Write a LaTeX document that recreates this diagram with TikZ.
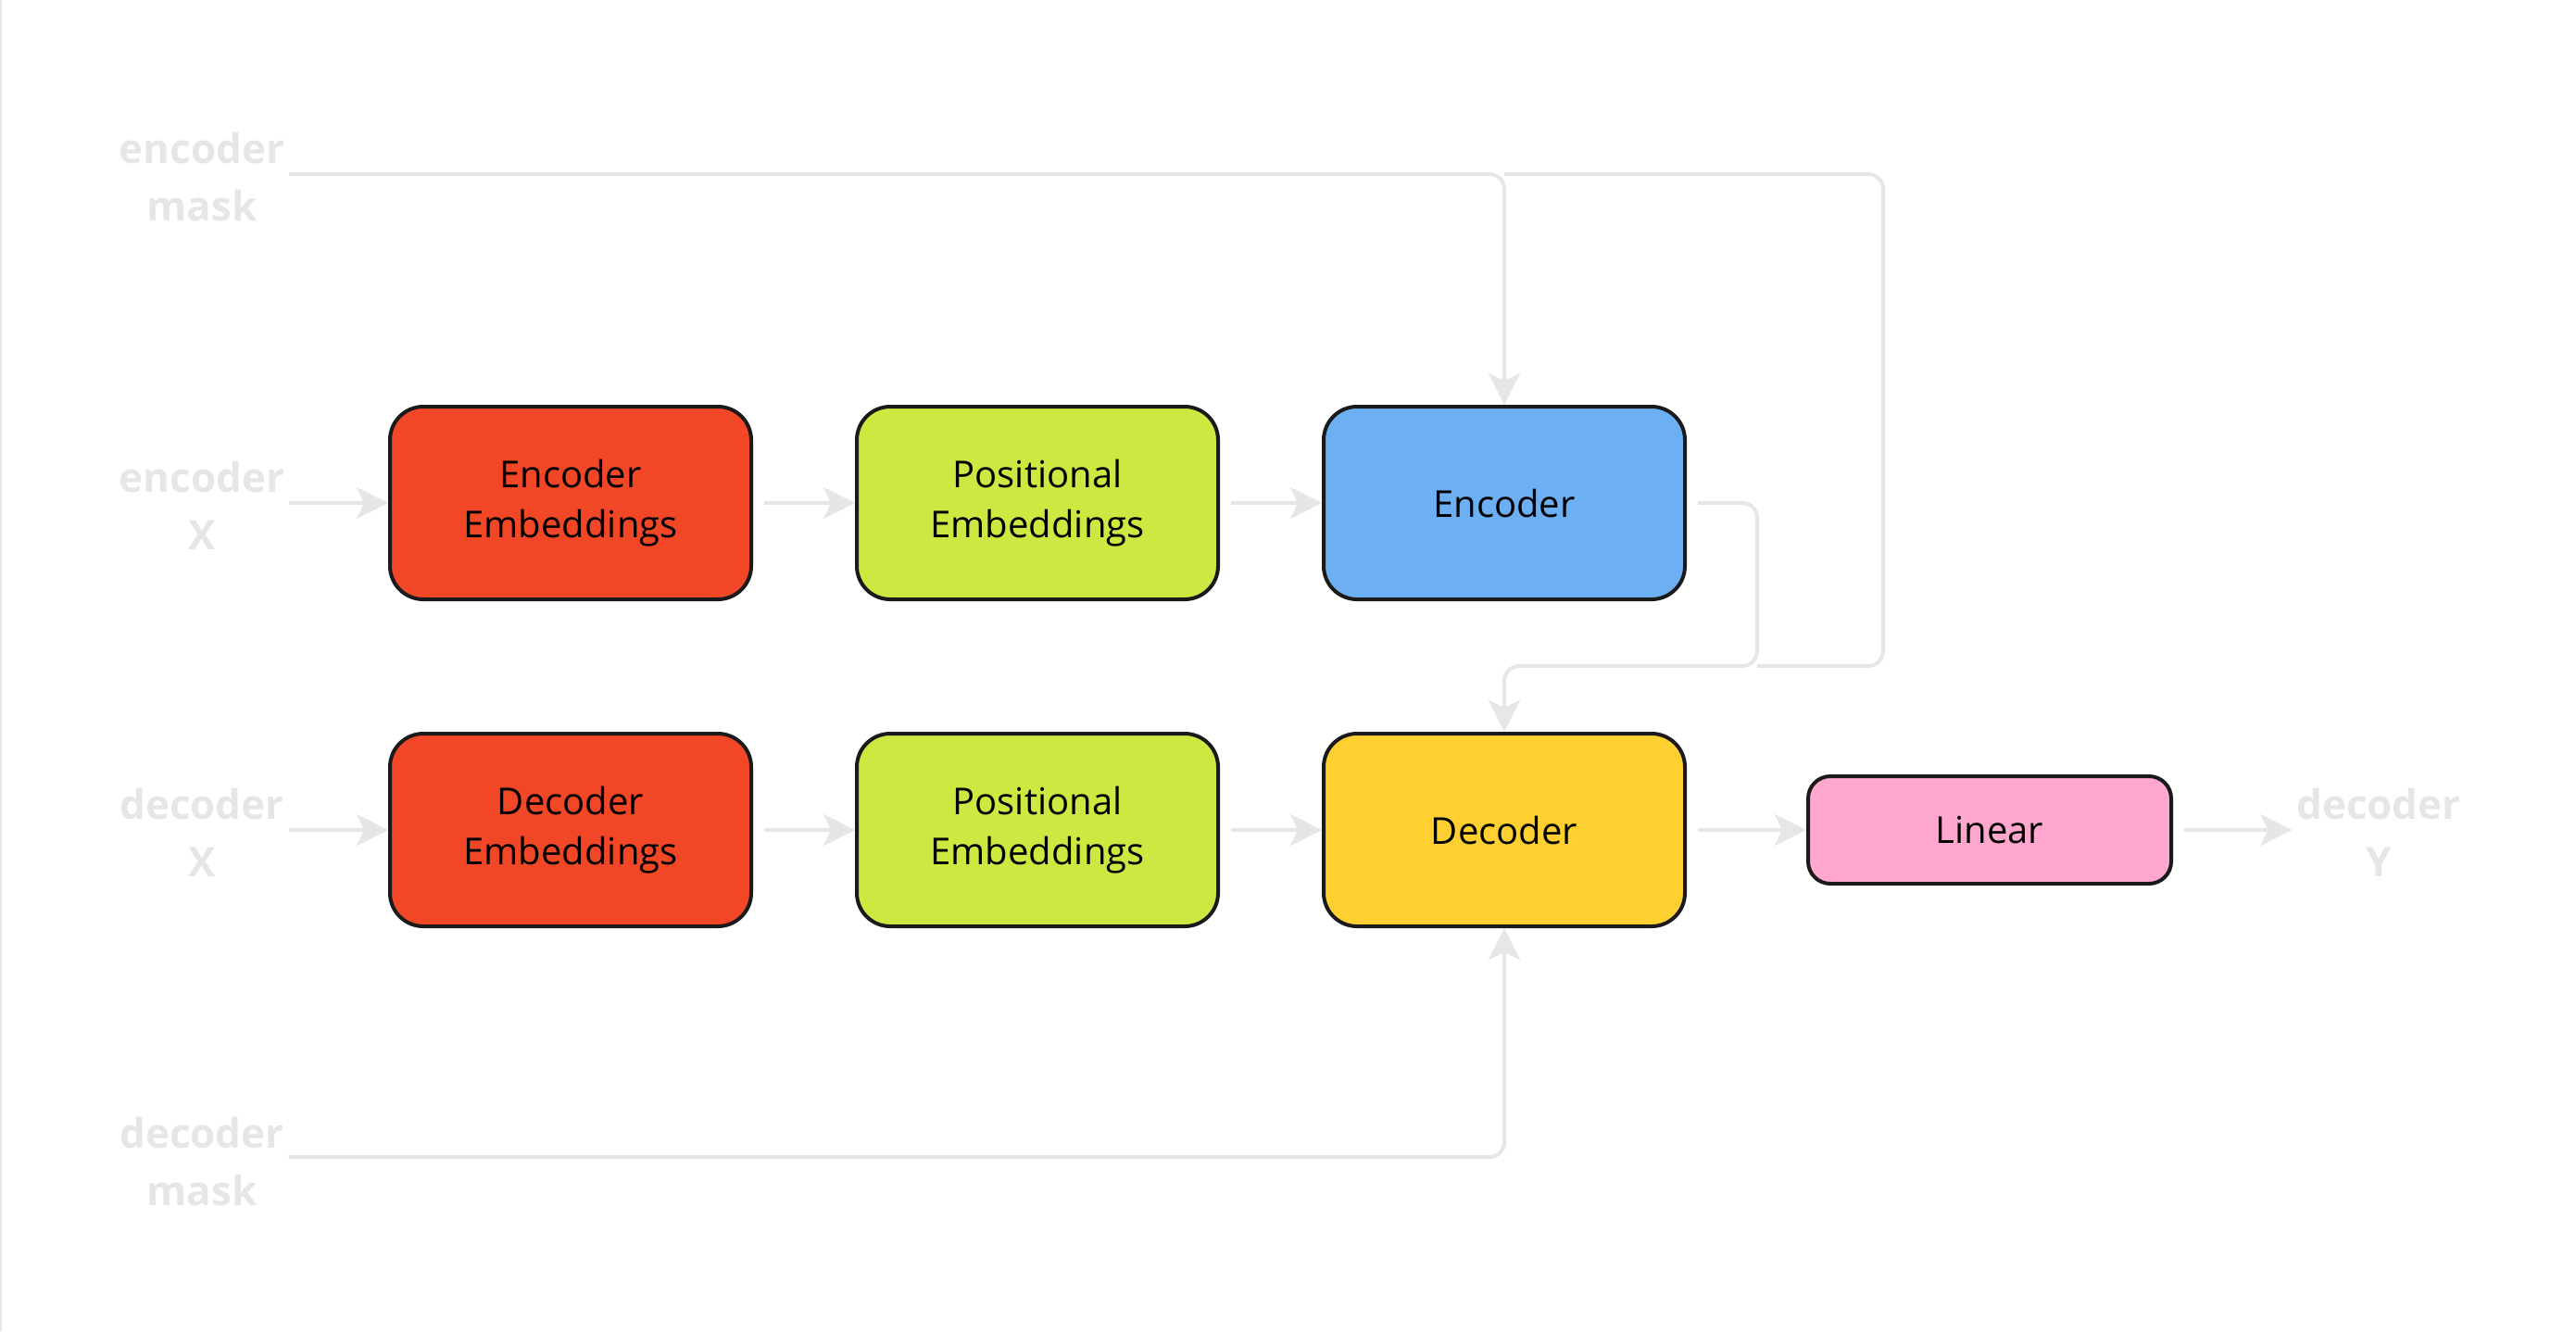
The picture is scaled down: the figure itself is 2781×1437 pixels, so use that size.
\documentclass[tikz,border=0pt]{standalone}
\usepackage{fontspec}
\setmainfont{Open Sans}
\usetikzlibrary{arrows.meta}
\definecolor{cred}{HTML}{F24726}
\definecolor{cgreen}{HTML}{CEE741}
\definecolor{cblue}{HTML}{6CB0F3}
\definecolor{cyellow}{HTML}{FFD02F}
\definecolor{cpink}{HTML}{FFA7CE}
\definecolor{cline}{HTML}{E6E6E6}
\definecolor{cborder}{HTML}{1A1A1A}
\tikzset{
  blk/.style={draw=cborder, line width=1pt, rounded corners=9pt, minimum width=97.5pt, minimum height=52pt, align=center, font=\fontsize{10pt}{13.5pt}\selectfont, inner sep=0pt},
  lin/.style={draw=cborder, line width=1pt, rounded corners=6pt, minimum width=98pt, minimum height=29pt, align=center, font=\fontsize{10pt}{13.5pt}\selectfont, inner sep=0pt},
  lbl/.style={text=cline, font=\bfseries\fontsize{11pt}{15.5pt}\selectfont, align=center, inner sep=1pt},
  conn/.style={draw=cline, line width=1pt, rounded corners=4pt, -{Stealth[length=8.5pt,width=8.5pt,inset=2pt]}},
  plain/.style={draw=cline, line width=1pt, rounded corners=4pt}
}
\begin{document}
\begin{tikzpicture}[x=0.25pt,y=-0.25pt]
\useasboundingbox (0,0) rectangle (2781,1437);
\draw[cline, line width=0.5pt] (1,0) -- (1,1437);
% labels
\node[lbl] (em) at (218,191) {encoder\\mask};
\node[lbl] (ex) at (218,546) {encoder\\X};
\node[lbl] (dx) at (218,899) {decoder\\X};
\node[lbl] (dm) at (218,1254) {decoder\\mask};
\node[lbl] (dy) at (2568,899) {decoder\\Y};
% boxes
\node[blk, fill=cred] (ee) at (616,543) {Encoder\\Embeddings};
\node[blk, fill=cgreen] (pe1) at (1120,543) {Positional\\Embeddings};
\node[blk, fill=cblue] (enc) at (1624,543) {Encoder};
\node[blk, fill=cred] (de) at (616,896) {Decoder\\Embeddings};
\node[blk, fill=cgreen] (pe2) at (1120,896) {Positional\\Embeddings};
\node[blk, fill=cyellow] (dec) at (1624,896) {Decoder};
\node[lin, fill=cpink] (linr) at (2148,896) {Linear};
% coordinates
\coordinate (mR) at (2033,188);
\coordinate (mJ) at (1624,719);
\coordinate (eR) at (1897,543);
\coordinate (dmC) at (1624,1249);
% connectors
\draw[conn] (em.east |- mR) -- (enc.north |- mR) -- (enc.north);
\draw[plain] (enc.north |- mR) -- (mR) |- (eR |- mJ);
\draw[conn, shorten <=3pt] (enc.east) -- (eR) |- (mJ) -- (dec.north);
\draw[conn] (dm.east |- dmC) -- (dmC) -- (dec.south);
\draw[conn] (ex.east |- ee.west) -- (ee.west);
\draw[conn, shorten <=3pt] (ee.east) -- (pe1.west);
\draw[conn, shorten <=3pt] (pe1.east) -- (enc.west);
\draw[conn] (dx.east |- de.west) -- (de.west);
\draw[conn, shorten <=3pt] (de.east) -- (pe2.west);
\draw[conn, shorten <=3pt] (pe2.east) -- (dec.west);
\draw[conn, shorten <=3pt] (dec.east) -- (linr.west);
\draw[conn, shorten <=3pt] (linr.east) -- (dy.west |- linr.east);
\end{tikzpicture}
\end{document}
